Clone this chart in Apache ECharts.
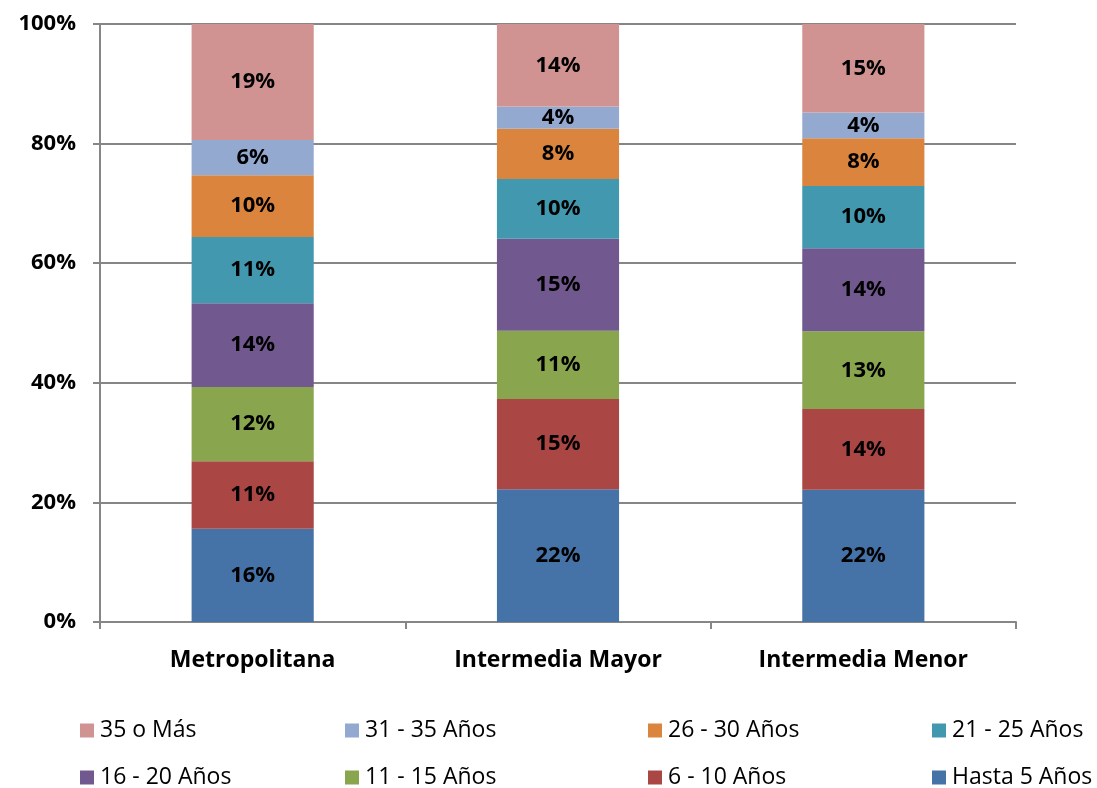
<!DOCTYPE html>
<html>
<head>
<meta charset="utf-8">
<script src="https://cdn.jsdelivr.net/npm/echarts@6/dist/echarts.min.js"></script>
<style>
  html, body { margin: 0; padding: 0; background: #fff; }
  #chart { width: 1097px; height: 788px; }
</style>
</head>
<body>
<div id="chart"></div>
<script>
// categories along the x axis
const categories = ['Metropolitana', 'Intermedia Mayor', 'Intermedia Menor'];

// series, bottom to top of the stack (share of total, %)
const seriesNames = ['Hasta 5 Años', '6 - 10 Años', '11 - 15 Años', '16 - 20 Años',
                     '21 - 25 Años', '26 - 30 Años', '31 - 35 Años', '35 o Más'];
const hasta5   = [15.6, 22.2, 22.1];
const a6_10    = [11.3, 15.1, 13.5];
const a11_15   = [12.4, 11.4, 13.0];
const a16_20   = [14.0, 15.4, 13.9];
const a21_25   = [11.1, 10.0, 10.4];
const a26_30   = [10.3,  8.4,  8.0];
const a31_35   = [ 5.9,  3.7,  4.3];
const mas35    = [19.4, 13.8, 14.8];
const seriesValues = [hasta5, a6_10, a11_15, a16_20, a21_25, a26_30, a31_35, mas35];

const yTicks = [0, 20, 40, 60, 80, 100];

const colors = ['#4572A7', '#AA4643', '#89A54E', '#71588F',
                '#4198AF', '#DB843D', '#93A9CF', '#D19392'];

// legend layout: 2 rows x 4 columns, read in reverse stack order
const legendCols = [80, 345, 648, 932];
const legendRows = [719, 766];

const font = '"Open Sans", Lato, sans-serif';
const chart = echarts.init(document.getElementById('chart'));

const legendOrder = seriesNames.slice().reverse();
const legends = legendOrder.map((name, i) => ({
  data: [name],
  left: legendCols[i % 4],
  top: legendRows[Math.floor(i / 4)],
  padding: 0,
  itemWidth: 14,
  itemHeight: 14,
  icon: 'rect',
  itemGap: 6,
  selectedMode: false,
  textStyle: { fontFamily: font, fontSize: 23, color: '#000', padding: [0, 0, 0, 1] }
}));

chart.setOption({
  animation: false,
  backgroundColor: '#fff',
  legend: legends,
  grid: { left: 100, right: 81, top: 24, bottom: 166 },
  xAxis: {
    type: 'category',
    data: categories,
    axisLine: { lineStyle: { color: '#868686', width: 2 } },
    axisTick: { show: true, length: 7, lineStyle: { color: '#868686', width: 2 } },
    axisLabel: { margin: 27, fontFamily: font, fontSize: 23, fontWeight: 'bold', color: '#000' }
  },
  yAxis: {
    type: 'value',
    min: 0, max: 100, interval: 20,
    axisLine: { show: true, lineStyle: { color: '#868686', width: 2 } },
    axisTick: { show: true, length: 7, lineStyle: { color: '#868686', width: 2 } },
    splitLine: { lineStyle: { color: '#868686', width: 2 } },
    axisLabel: {
      margin: 24, fontFamily: font, fontSize: 22, fontWeight: 'bold', color: '#000',
      formatter: v => (yTicks.indexOf(v) >= 0 ? v + '%' : '')
    }
  },
  series: seriesNames.map((name, i) => ({
    name: name,
    type: 'bar',
    stack: 'total',
    barWidth: '40%',
    data: seriesValues[i],
    itemStyle: { color: colors[i] },
    label: {
      show: true,
      position: 'inside',
      fontFamily: font,
      fontSize: 22,
      fontWeight: 'bold',
      color: '#000',
      formatter: p => Math.round(p.value) + '%'
    }
  }))
});
</script>
</body>
</html>
